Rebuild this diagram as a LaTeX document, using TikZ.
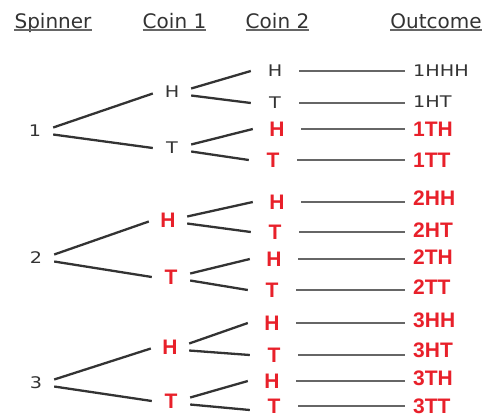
\documentclass[tikz,border=0pt]{standalone}
\usepackage{fontspec}
\usepackage{graphicx}
\setmainfont{DejaVu Sans}
\newfontfamily\redfont{Liberation Sans}
\definecolor{myred}{HTML}{E8202A}
\definecolor{ink}{HTML}{333333}
\newcommand\widen[1]{\scalebox{1.2}[1]{#1}}
\tikzset{
  hdr/.style={font=\fontsize{20}{20}\selectfont, text=ink, anchor=base, text depth=0pt, inner xsep=0pt, inner ysep=2pt},
  uline/.style={draw=black!60, line width=1.6pt},
  blk/.style={font=\fontsize{16}{16}\selectfont, text=ink, inner sep=0pt},
  rd/.style={font=\redfont\bfseries\fontsize{21}{21}\selectfont, text=myred, inner sep=0pt},
  spin/.style={minimum width=36pt},
  cone/.style={minimum width=38pt},
  ctwo/.style={minimum width=48pt},
  outc/.style={anchor=west, inner xsep=8pt},
  tree/.style={draw=ink, line width=2.3pt},
  outl/.style={draw=black!60, line width=2pt},
}
\begin{document}
\begin{tikzpicture}[x=1pt,y=-1pt]
\useasboundingbox (0,0) rectangle (484,418);
% headers
\node[hdr] (hs) at (53,28) {Spinner};
\node[hdr] (hc1) at (174.5,28) {Coin 1};
\node[hdr] (hc2) at (277.5,28) {Coin 2};
\node[hdr] (ho) at (436,28) {Outcome};
\foreach \h in {hs,hc1,hc2,ho} \draw[uline] (\h.south west) -- (\h.south east);

% spinner
\node[blk,spin] (s1) at (35,131) {\widen{1}};
\node[blk,spin] (s2) at (36,258) {\widen{2}};
\node[blk,spin] (s3) at (36,383) {\widen{3}};

% coin 1
\node[blk,cone] (a1H) at (172,92) {\widen{H}};
\node[blk,cone] (a1T) at (172,148) {\widen{T}};
\node[rd,cone] (a2H) at (168,220) {H};
\node[rd,cone] (a2T) at (171,277) {T};
\node[rd,cone] (a3H) at (170,347) {H};
\node[rd,cone] (a3T) at (171,401) {T};

% coin 2
\node[blk,ctwo] (b1) at (275,71) {\widen{H}};
\node[blk,ctwo] (b2) at (275,103) {\widen{T}};
\node[rd,ctwo] (b3) at (277,129) {H};
\node[rd,ctwo] (b4) at (273,160) {T};
\node[rd,ctwo] (b5) at (277,202) {H};
\node[rd,ctwo] (b6) at (275,232) {T};
\node[rd,ctwo] (b7) at (274,259) {H};
\node[rd,ctwo] (b8) at (272,290) {T};
\node[rd,ctwo] (b9) at (272,323) {H};
\node[rd,ctwo] (b10) at (274,355) {T};
\node[rd,ctwo] (b11) at (272,381) {H};
\node[rd,ctwo] (b12) at (274,406) {T};

% outcomes
\node[blk,outc] (o1) at (405,71) {\widen{1HHH}};
\node[blk,outc] (o2) at (405,102) {\widen{1HT}};
\node[rd,outc] (o3) at (405,129) {1TH};
\node[rd,outc] (o4) at (405,160) {1TT};
\node[rd,outc] (o5) at (405,198) {2HH};
\node[rd,outc] (o6) at (405,230) {2HT};
\node[rd,outc] (o7) at (405,257) {2TH};
\node[rd,outc] (o8) at (405,287) {2TT};
\node[rd,outc] (o9) at (405,320) {3HH};
\node[rd,outc] (o10) at (405,350) {3HT};
\node[rd,outc] (o11) at (405,378) {3TH};
\node[rd,outc] (o12) at (405,406) {3TT};

% spinner -> coin 1
\foreach \s/\h/\t in {s1/a1H/a1T, s2/a2H/a2T, s3/a3H/a3T} {
  \draw[tree] ([yshift=3.5pt]\s.east) -- ([yshift=-1.5pt]\h.west);
  \draw[tree] ([yshift=-3.5pt]\s.east) -- (\t.west);
}
% coin 1 -> coin 2
\foreach \a/\u/\l in {a1H/b1/b2, a1T/b3/b4, a2H/b5/b6, a2T/b7/b8, a3H/b9/b10} {
  \draw[tree] ([yshift=3.5pt]\a.east) -- (\u.west);
  \draw[tree] ([yshift=-3.5pt]\a.east) -- (\l.west);
}
\draw[tree] ([yshift=3.5pt]a3T.east) -- (b11.west);
\draw[tree] ([yshift=-3.5pt]a3T.east) -- ([yshift=-4pt]b12.west);
% coin 2 -> outcome
\foreach \b/\o in {b1/o1,b2/o2,b3/o3,b4/o4,b5/o5,b6/o6,b7/o7,b8/o8,b9/o9,b10/o10,b11/o11,b12/o12}
  \draw[outl] (\b.east) -- (\b.east -| \o.west);
\end{tikzpicture}
\end{document}
